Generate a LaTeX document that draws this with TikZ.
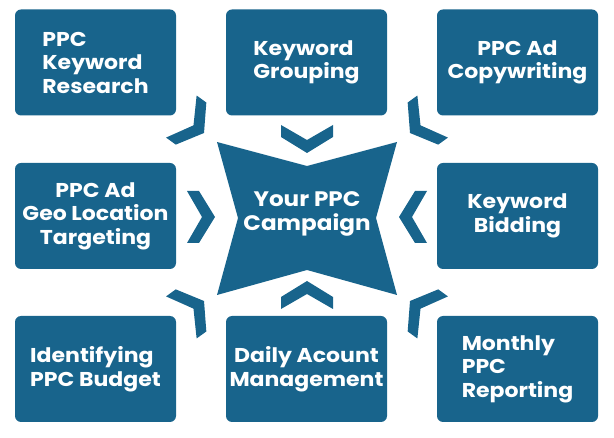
\documentclass[tikz,border=0pt]{standalone}
\usepackage{fontspec}
\setmainfont{Poppins}
\newfontfamily\boxfont{Poppins}[FakeStretch=1.1]
\definecolor{ppcblue}{RGB}{24,100,140}
\tikzset{
  box/.style={fill=ppcblue, rounded corners=6pt, minimum width=161pt, minimum height=106pt,
    inner sep=0pt, text=white, font=\boxfont\fontsize{20}{23.5}\selectfont\bfseries},
  chev/.style={fill=ppcblue}
}

\begin{document}
\begin{tikzpicture}[x=1pt, y=-1pt]
\useasboundingbox (0,0) rectangle (614,438);

% the eight tasks
\node[box, align=left]   (kr)  at (95.5,62.5)  {PPC\\Keyword\\Research};
\node[box, align=left]   (kg)  at (306.5,62.5) {Keyword\\Grouping};
\node[box, align=center] (cw)  at (517.5,62.5) {PPC Ad\\Copywriting};
\node[box, align=center] (geo) at (95.5,216)   {PPC Ad\\Geo Location\\Targeting};
\node[box, align=center] (bid) at (517.5,216)  {Keyword\\Bidding};
\node[box, align=left]   (bud) at (95.5,369)   {Identifying\\PPC Budget};
\node[box, align=center] (acc) at (306.5,369)  {Daily Acount\\Management};
\node[box, align=left]   (rep) at (517.5,369)  {Monthly\\PPC\\Reporting};

% the star in the middle
\fill[ppcblue] (217,142) -- (307,166) -- (397,142) -- (376,218) -- (397,295)
  -- (307,270) -- (217,295) -- (238,218) -- cycle;
\node[text=white, align=center, font=\boxfont\fontsize{21}{24}\selectfont\bfseries] (camp) at (307,214)
  {Your PPC\\Campaign};

% chevrons pointing to the middle
\foreach \x/\y/\a in {307/153/-90, 307/281/90, 215/217/0, 399/217/180,
                      204/133/-36, 410/133/-144, 204/301/36, 410/301/144}
  \fill[chev, shift={(\x,\y)}, rotate=\a]
    (0,0) -- (-16,26) -- (-28,26) -- (-13,0) -- (-28,-26) -- (-16,-26) -- cycle;

\end{tikzpicture}
\end{document}
